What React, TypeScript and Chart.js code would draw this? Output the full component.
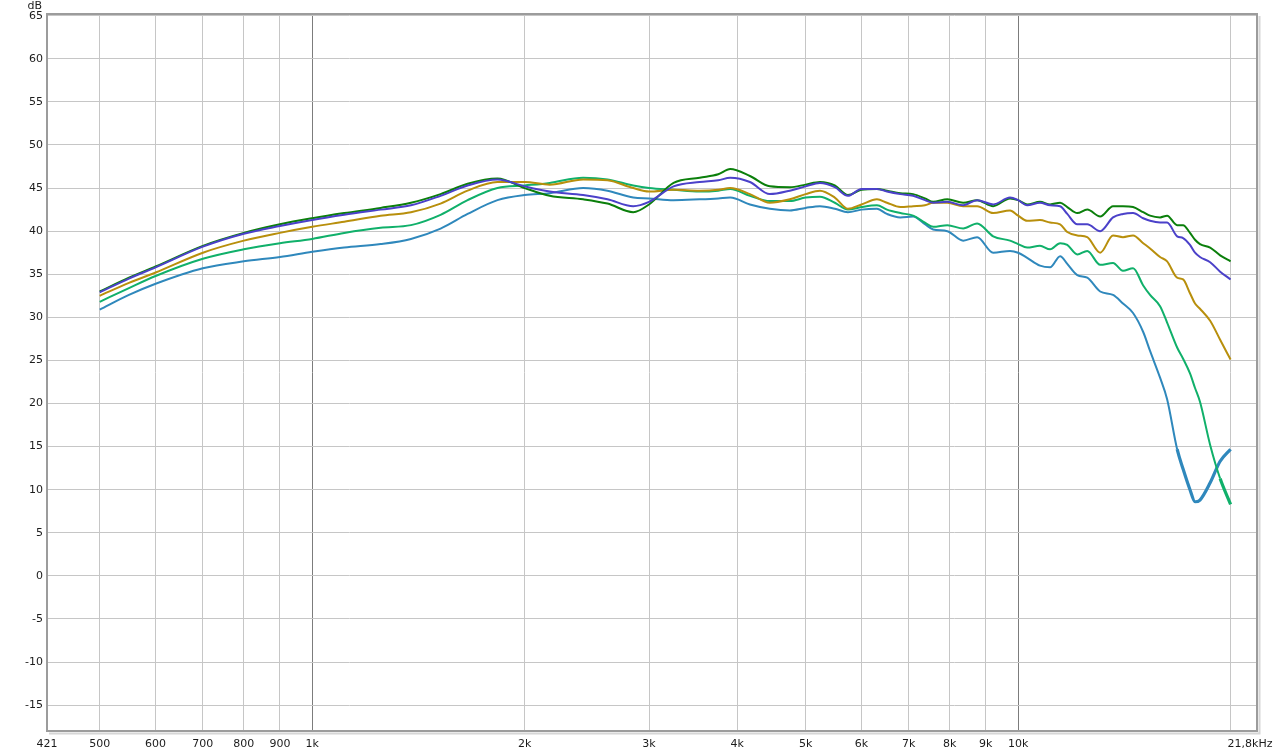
import React, { useEffect, useRef } from "react";
import { Chart, registerables } from "chart.js";

Chart.register(...registerables);

const freqs = [
  500, 550, 600, 700, 800, 900, 1000,
  1110, 1250, 1380, 1520, 1660, 1830, 2000,
  2170, 2420, 2620, 2850, 3000,
  3250, 3540, 3760, 3910, 4170, 4450, 4750, 5000,
  5240, 5500, 5740, 6000,
  6310, 6520, 6810, 7100, 7380, 7580, 7940,
  8360, 8750, 9220, 9740, 10000,
  10300, 10740, 11100, 11470, 11740, 12130, 12530,
  13070, 13630, 14080, 14550, 15040, 15380, 15890,
  16260, 16800, 17130, 17520, 17810, 18100,
  18710, 19330, 20000,
];

const darkGreen = [
  33.0, 34.6, 35.9, 38.3, 39.8, 40.8, 41.5,
  42.1, 42.7, 43.3, 44.3, 45.5, 46.1, 45.0,
  44.1, 43.7, 43.2, 42.2, 43.1,
  45.6, 46.2, 46.6, 47.2, 46.4, 45.2, 45.1, 45.4,
  45.7, 45.3, 44.2, 44.8,
  44.9, 44.7, 44.4, 44.3, 43.8, 43.4, 43.7,
  43.3, 43.6, 42.9, 43.8, 43.6,
  43.1, 43.4, 43.1, 43.3, 42.8, 42.1, 42.5,
  41.7, 42.9, 42.9, 42.8, 42.2, 41.8, 41.6,
  41.8, 40.7, 40.7, 39.8, 39.0, 38.5,
  38.1, 37.2, 36.5,
];

const blue = [
  32.9, 34.5, 35.8, 38.2, 39.7, 40.6, 41.3,
  41.9, 42.5, 43.0, 44.1, 45.3, 46.0, 45.2,
  44.6, 44.2, 43.7, 42.9, 43.4,
  45.2, 45.7, 45.9, 46.2, 45.7, 44.3, 44.7, 45.2,
  45.6, 45.1, 44.1, 44.9,
  44.9, 44.6, 44.3, 44.1, 43.6, 43.3, 43.4,
  43.0, 43.6, 43.1, 43.9, 43.6,
  43.0, 43.3, 43.0, 42.9, 42.0, 40.8, 40.8,
  40.0, 41.6, 42.0, 42.1, 41.5, 41.2, 41.0,
  41.0, 39.4, 39.2, 38.4, 37.5, 37.0,
  36.4, 35.3, 34.4,
];

const gold = [
  32.5, 34.0, 35.2, 37.5, 38.9, 39.8, 40.5,
  41.1, 41.8, 42.2, 43.2, 44.7, 45.7, 45.7,
  45.4, 46.0, 45.9, 45.0, 44.6,
  44.8, 44.7, 44.8, 45.0, 44.3, 43.3, 43.7, 44.3,
  44.7, 43.9, 42.6, 43.1,
  43.7, 43.3, 42.8, 42.9, 43.0, 43.3, 43.3,
  42.9, 42.9, 42.1, 42.4, 41.8,
  41.2, 41.3, 41.0, 40.8, 39.9, 39.5, 39.3,
  37.5, 39.5, 39.3, 39.5, 38.6, 38.0, 37.0,
  36.5, 34.6, 34.4, 32.8, 31.6, 31.0,
  29.6, 27.4, 25.1,
];

const green = [
  31.8, 33.4, 34.8, 36.8, 37.9, 38.6, 39.1,
  39.8, 40.4, 40.7, 41.9, 43.6, 45.0, 45.3,
  45.6, 46.2, 46.0, 45.3, 45.0,
  44.8, 44.6, 44.7, 44.9, 44.1, 43.5, 43.5, 43.9,
  44.0, 43.3, 42.5, 42.8,
  43.0, 42.5, 42.1, 41.8, 41.0, 40.5, 40.7,
  40.3, 40.9, 39.4, 38.9, 38.5,
  38.1, 38.3, 37.9, 38.6, 38.4, 37.3, 37.7,
  36.1, 36.3, 35.4, 35.7, 33.7, 32.6, 31.3,
  29.4, 26.5, 25.2, 23.5, 21.8, 20.2,
  15.2, 11.3, 8.3,
];

const teal = [
  30.9, 32.6, 33.9, 35.7, 36.5, 37.0, 37.6,
  38.1, 38.5, 39.1, 40.3, 42.0, 43.6, 44.2,
  44.4, 45.0, 44.7, 43.9, 43.8,
  43.6, 43.7, 43.8, 43.9, 43.1, 42.6, 42.4, 42.7,
  42.9, 42.6, 42.2, 42.5,
  42.6, 42.0, 41.6, 41.7, 40.8, 40.2, 40.0,
  38.9, 39.3, 37.5, 37.7, 37.5,
  36.9, 36.0, 35.8, 37.1, 36.2, 34.9, 34.6,
  33.0, 32.6, 31.6, 30.5, 28.3, 26.1, 23.0,
  20.5, 14.7, 12.4, 10.0, 8.6, 8.8,
  10.8, 13.3, 14.7,
];

const seriesNames = ["Blue", "Dark green", "Gold", "Green", "Teal"];
const seriesColors = ["#4b41c9", "#0b7f0b", "#b88f0c", "#10b06a", "#2f88bc"];
const seriesValues = [blue, darkGreen, gold, green, teal];
// frequency above which the trace looks noisy (drawn a little thicker)
const noisyFrom = [Infinity, Infinity, Infinity, 19000, 16500];

const xTickValues = [421, 500, 600, 700, 800, 900, 1000, 2000, 3000, 4000, 5000, 6000, 7000, 8000, 9000, 10000, 20000];
const xTickLabels = ["421", "500", "600", "700", "800", "900", "1k", "2k", "3k", "4k", "5k", "6k", "7k", "8k", "9k", "10k", ""];
const yTickValues = [65, 60, 55, 50, 45, 40, 35, 30, 25, 20, 15, 10, 5, 0, -5, -10, -15];
const endLabel = "21,8kHz";
const yUnit = "dB";

const FONT = '"DejaVu Sans", sans-serif';
const TEXT = "#1c1c1c";

const framePlugin = {
  id: "frame",
  afterDraw(chart: any) {
    const { ctx, chartArea: a } = chart;
    ctx.save();
    ctx.strokeStyle = "#d6d6d6";
    ctx.lineWidth = 2;
    ctx.beginPath();
    ctx.moveTo(a.right + 2.5, a.top + 2);
    ctx.lineTo(a.right + 2.5, a.bottom + 2.5);
    ctx.lineTo(a.left + 2, a.bottom + 2.5);
    ctx.stroke();
    ctx.strokeStyle = "#9c9c9c";
    ctx.lineWidth = 2;
    ctx.strokeRect(a.left, a.top, a.right - a.left, a.bottom - a.top);
    ctx.fillStyle = TEXT;
    ctx.font = "11px " + FONT;
    ctx.textAlign = "right";
    ctx.textBaseline = "middle";
    ctx.fillText(yUnit, 42, 6);
    const xs = chart.scales.x;
    ctx.textAlign = "left";
    ctx.fillText(endLabel, xs.getPixelForValue(20000) - 3, 744);
    ctx.restore();
  },
};

export default function App() {
  const ref = useRef<HTMLCanvasElement | null>(null);

  useEffect(() => {
    if (!ref.current) return;
    const datasets = seriesValues.map((vals, i) => ({
      label: seriesNames[i],
      data: freqs.map((f, j) => ({ x: f, y: vals[j] })),
      borderColor: seriesColors[i],
      backgroundColor: seriesColors[i],
      borderWidth: 2,
      pointRadius: 0,
      cubicInterpolationMode: "monotone" as const,
      fill: false,
      segment: {
        borderWidth: (c: any) => (c.p0.parsed.x >= noisyFrom[i] ? 3.2 : 2),
      },
    }));
    const chart = new Chart(ref.current, {
      type: "line",
      data: { datasets },
      options: {
        animation: false,
        responsive: false,
        maintainAspectRatio: false,
        layout: { padding: { top: 14, right: 23, left: 1, bottom: 0 } },
        plugins: { legend: { display: false }, tooltip: { enabled: false } },
        scales: {
          x: {
            type: "logarithmic",
            min: 421,
            max: 21800,
            afterBuildTicks: (s: any) => {
              s.ticks = xTickValues.map((v) => ({ value: v }));
            },
            afterFit: (s: any) => {
              s.height = 21;
            },
            border: { display: false },
            grid: {
              drawTicks: false,
              lineWidth: 1,
              color: (c: any) =>
                c.tick && (c.tick.value === 1000 || c.tick.value === 10000) ? "#7c7c7c" : "#c6c6c6",
            },
            ticks: {
              autoSkip: false,
              maxRotation: 0,
              minRotation: 0,
              padding: 7,
              color: TEXT,
              font: { size: 11, family: FONT },
              callback: (v: any) => {
                const i = xTickValues.indexOf(Number(v));
                return i >= 0 ? xTickLabels[i] : "";
              },
            },
          },
          y: {
            type: "linear",
            min: -18,
            max: 65.2,
            afterBuildTicks: (s: any) => {
              s.ticks = yTickValues.map((v) => ({ value: v }));
            },
            afterFit: (s: any) => {
              s.width = 46;
            },
            border: { display: false },
            grid: { drawTicks: false, color: "#c6c6c6", lineWidth: 1 },
            ticks: {
              padding: 4,
              color: TEXT,
              font: { size: 11, family: FONT },
              callback: (v: any) => String(v),
            },
          },
        },
      },
      plugins: [framePlugin],
    });
    return () => chart.destroy();
  }, []);

  return (
    <div style={{ position: "fixed", left: 0, top: 0, width: 1280, height: 752, background: "#fff" }}>
      <canvas ref={ref} width={1280} height={752} style={{ width: 1280, height: 752, display: "block" }} />
    </div>
  );
}
